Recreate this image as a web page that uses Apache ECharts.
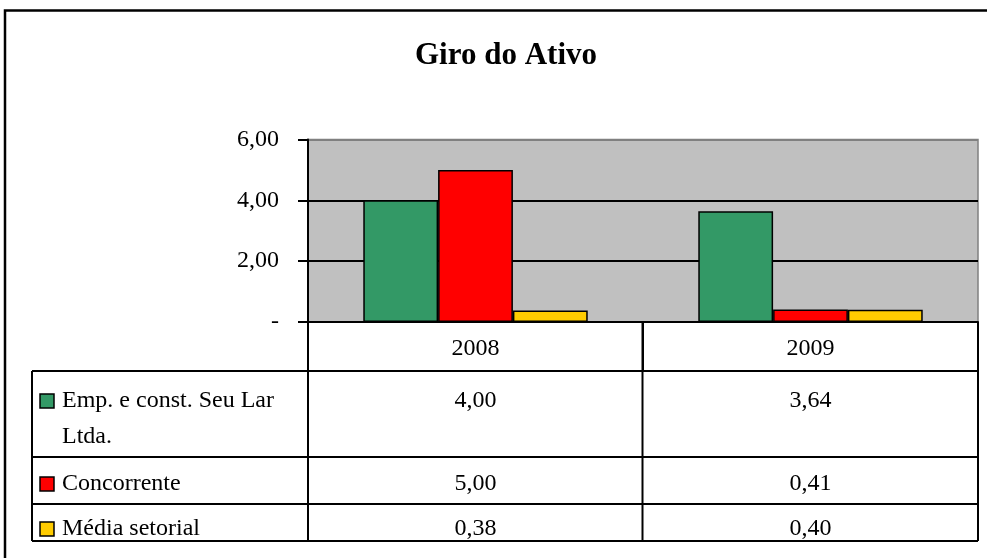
<!DOCTYPE html>
<html>
<head>
<meta charset="utf-8">
<script src="https://cdn.jsdelivr.net/npm/echarts@6/dist/echarts.min.js"></script>
<style>
  html, body { margin: 0; padding: 0; background: #fff; }
  #chart { width: 987px; height: 558px; }
</style>
</head>
<body>
<div id="chart"></div>
<script>
// dados
var anos = ['2008', '2009'];
var nomes = ['Emp. e const. Seu Lar Ltda.', 'Concorrente', 'Média setorial'];
var empresa = [4.00, 3.64];
var concorrente = [5.00, 0.41];
var mediaSetorial = [0.38, 0.40];
var cores = ['#339966', '#FF0000', '#FFCC00'];

var fonte = "'Liberation Serif', 'Times New Roman', serif";
function fmt(v) { return v === 0 ? '-' : v.toFixed(2).replace('.', ','); }

var chart = echarts.init(document.getElementById('chart'));

var valores = [empresa, concorrente, mediaSetorial];
var series = nomes.map(function (n, i) {
    return {
        name: n,
        type: 'bar',
        data: valores[i],
        barGap: '0%',
        barCategoryGap: '33%',
        itemStyle: { color: cores[i], borderColor: '#000', borderWidth: 1.5 },
        emphasis: { disabled: true }
    };
});

chart.setOption({
    animation: false,
    title: {
        text: 'Giro do Ativo',
        left: 410,
        top: 35,
        textStyle: { fontFamily: fonte, fontSize: 31, fontWeight: 'bold', color: '#000' }
    },
    grid: {
        left: 308, right: 9, top: 139.5, bottom: 236,
        show: true, backgroundColor: '#C0C0C0', borderColor: '#808080', borderWidth: 1.5
    },
    xAxis: {
        type: 'category',
        data: anos,
        axisLine: { lineStyle: { color: '#000', width: 2 } },
        axisTick: { show: true, length: 49, interval: 0, lineStyle: { color: '#000', width: 2 } },
        axisLabel: { margin: 15, fontFamily: fonte, fontSize: 24, color: '#000' }
    },
    yAxis: {
        type: 'value',
        min: 0, max: 6, interval: 2,
        axisLine: { show: true, lineStyle: { color: '#000', width: 2 } },
        axisTick: { show: true, length: 10, lineStyle: { color: '#000', width: 2 } },
        splitLine: { show: true, lineStyle: { color: ['#000', '#000', '#000', '#808080'], width: 2 } },
        axisLabel: { margin: 29, fontFamily: fonte, fontSize: 24, color: '#000', formatter: fmt }
    },
    series: series
});

// tabela de dados
var linhas = [
    { top: 371, bottom: 457, cy: 401 },
    { top: 457, bottom: 504, cy: 484 },
    { top: 504, bottom: 541, cy: 529 }
];
var xEsq = 32, xEixo = 308, xMeio = 642.5, xDir = 978;
var g = [];
// moldura externa
g.push({ type: 'rect', shape: { x: 5, y: 10.5, width: 1100, height: 600 },
    style: { fill: null, stroke: '#000', lineWidth: 2.5 }, silent: true });

linhas.forEach(function (l) {
    g.push({ type: 'line', shape: { x1: xEsq, y1: l.top, x2: xDir, y2: l.top },
        style: { stroke: '#000', lineWidth: 2 } });
});
g.push({ type: 'line', shape: { x1: xEsq, y1: 541, x2: xDir, y2: 541 }, style: { stroke: '#000', lineWidth: 2 } });
[xEsq, xEixo, xMeio, xDir].forEach(function (x) {
    g.push({ type: 'line', shape: { x1: x, y1: x === xEsq ? 371 : 322, x2: x, y2: 541 },
        style: { stroke: '#000', lineWidth: 2 } });
});

nomes.forEach(function (n, i) {
    var l = linhas[i];
    g.push({ type: 'rect', shape: { x: 40, y: l.cy - 7, width: 14, height: 14 },
        style: { fill: cores[i], stroke: '#000', lineWidth: 1.5 } });
    g.push({ type: 'text', x: 62, y: l.cy - 18,
        style: { text: n, width: 236, overflow: 'break', lineHeight: 36,
            font: '24px ' + fonte, fill: '#000', verticalAlign: 'top', align: 'left' } });
    anos.forEach(function (a, j) {
        var cx = chart.convertToPixel({ xAxisIndex: 0 }, a);
        g.push({ type: 'text', x: cx, y: l.cy,
            style: { text: fmt(valores[i][j]), font: '24px ' + fonte, fill: '#000',
                align: 'center', verticalAlign: 'middle' } });
    });
});

chart.setOption({ graphic: g });
</script>
</body>
</html>
